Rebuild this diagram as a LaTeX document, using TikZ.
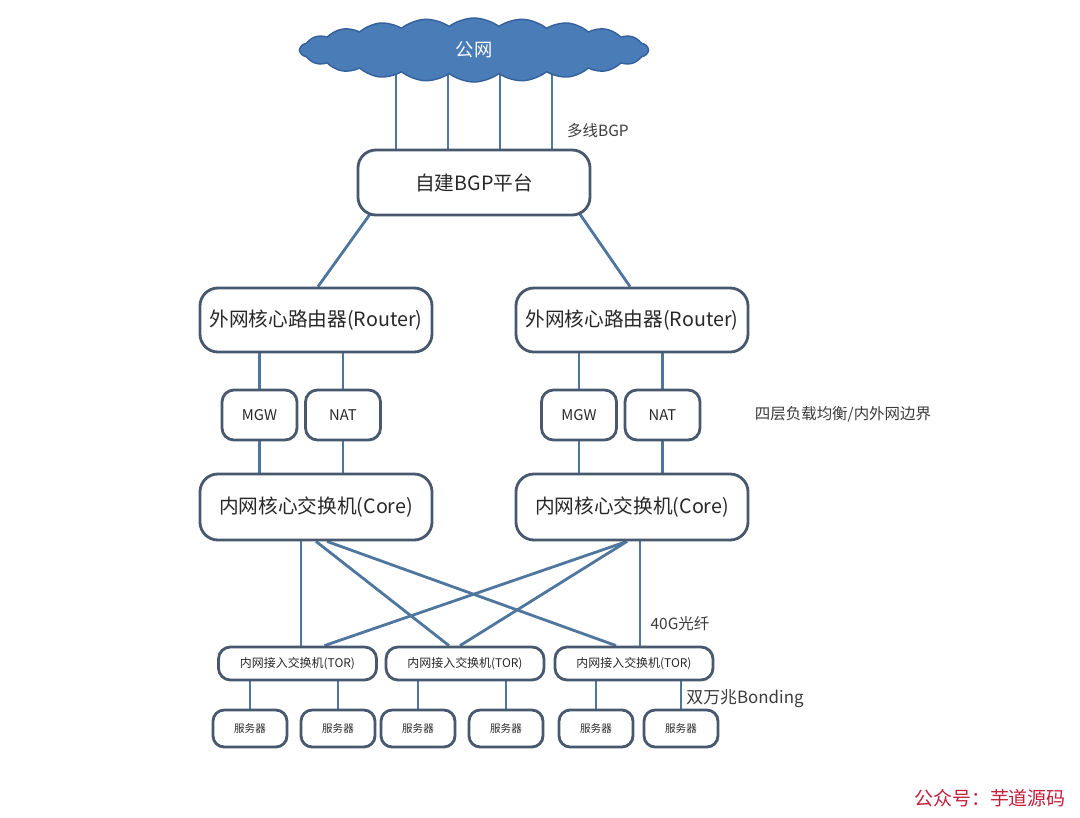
\documentclass[tikz,border=0pt]{standalone}
\usepackage{fontspec}
\setmainfont{Noto Sans CJK SC}
\usetikzlibrary{shapes.symbols,calc}
\definecolor{boxline}{RGB}{72,88,110}
\definecolor{linkc}{RGB}{78,118,158}
\definecolor{cloudf}{RGB}{74,124,184}
\definecolor{cloudd}{RGB}{52,96,156}
\definecolor{txt}{RGB}{40,40,40}
\definecolor{lbl}{RGB}{60,60,60}
\definecolor{redtxt}{RGB}{196,30,58}
\pgfdeclarelayer{background}
\pgfdeclarelayer{bg}
\pgfsetlayers{background,bg,main}
\begin{document}
\begin{tikzpicture}[x=0.025cm,y=-0.025cm,
  box/.style={draw=boxline, line width=2pt, fill=white, text=txt, inner sep=0pt, align=center},
  bigbox/.style={box, rounded corners=0.45cm, minimum width=5.8cm, minimum height=1.6cm, font=\fontsize{14}{16}\selectfont},
  smallbox/.style={box, rounded corners=0.3cm, minimum width=1.875cm, minimum height=1.25cm, font=\fontsize{10.5}{12}\selectfont},
  torbox/.style={box, rounded corners=0.3cm, minimum width=3.95cm, minimum height=0.825cm, font=\fontsize{8.5}{10}\selectfont},
  srvbox/.style={box, rounded corners=0.28cm, minimum width=1.85cm, minimum height=0.925cm, font=\fontsize{7.5}{9}\selectfont},
  link/.style={draw=linkc, line width=2pt},
  note/.style={text=lbl, inner sep=0pt}]
\begin{pgfonlayer}{background}
\useasboundingbox[fill=white] (0,0) rectangle (1080,817);
\end{pgfonlayer}

% cloud
\node[cloud, cloud puffs=22, cloud puff arc=75, aspect=5.4, draw=cloudd, line width=1pt, fill=cloudf,
      minimum width=8.7cm, minimum height=1.6cm, inner sep=0pt, text=white,
      font=\fontsize{13}{15}\selectfont] (net) at (474,50) {公网};

% top boxes
\node[bigbox, minimum height=1.625cm] (bgp) at (474,182.5) {自建BGP平台};
\node[bigbox] (r1) at (316,320) {外网核心路由器(Router)};
\node[bigbox] (r2) at (632,320) {外网核心路由器(Router)};

\node[smallbox] (m1) at (259.5,415) {MGW};
\node[smallbox] (n1) at (343,415) {NAT};
\node[smallbox] (m2) at (579,415) {MGW};
\node[smallbox] (n2) at (662.5,415) {NAT};

\node[bigbox, minimum height=1.65cm] (c1) at (316,507) {内网核心交换机(Core)};
\node[bigbox, minimum height=1.65cm] (c2) at (632,507) {内网核心交换机(Core)};

\node[torbox] (t1) at (297.5,663.5) {内网接入交换机(TOR)};
\node[torbox] (t2) at (465,663.5) {内网接入交换机(TOR)};
\node[torbox] (t3) at (634,663.5) {内网接入交换机(TOR)};

\node[srvbox] (s1) at (250,728.5) {服务器};
\node[srvbox] (s2) at (338,728.5) {服务器};
\node[srvbox] (s3) at (418,728.5) {服务器};
\node[srvbox] (s4) at (506,728.5) {服务器};
\node[srvbox] (s5) at (596,728.5) {服务器};
\node[srvbox] (s6) at (681,728.5) {服务器};

% labels
\node[note, font=\fontsize{11}{13}\selectfont] (l1) at (598,131) {多线BGP};
\node[note, font=\fontsize{11}{13}\selectfont] (l2) at (843,414) {四层负载均衡/内外网边界};
\node[note, font=\fontsize{11}{13}\selectfont] (l3) at (680,624) {40G光纤};
\node[note, font=\fontsize{12}{14}\selectfont] (l4) at (745,699) {双万兆Bonding};
\node[inner sep=0pt, text=redtxt, font=\fontsize{13.5}{15}\selectfont] (wm) at (990,798) {公众号：芋道源码};

% connectors
\begin{pgfonlayer}{bg}
\foreach \x/\n in {396/a,448/b,500/c,552/d}{
  \coordinate (p\n) at (\x,60);
  \draw[link] (p\n) -- (p\n |- bgp.north);
}
\draw[link] ($(bgp.south west)+(14,-3)$) -- ($(r1.north)+(2,0)$);
\draw[link] ($(bgp.south east)+(-12,-3)$) -- ($(r2.north)+(-2,0)$);
\foreach \b/\r in {m1/r1,n1/r1,m2/r2,n2/r2}{
  \draw[link] (\b.north) -- (\b.north |- \r.south);
}
\foreach \b/\c in {m1/c1,n1/c1,m2/c2,n2/c2}{
  \draw[link] (\b.south) -- (\b.south |- \c.north);
}
\coordinate (ca) at ($(c1.south)+(-15,0)$);
\draw[link] (ca) -- (ca |- t1.north);
\draw[link] ($(c1.south)+(0,0)$) -- ($(t2.north)+(-16,0)$);
\draw[link] ($(c1.south)+(11,0)$) -- ($(t3.north)+(-18,0)$);
\draw[link] ($(c2.south)+(-5,0)$) -- ($(t1.north)+(27,0)$);
\draw[link] ($(c2.south)+(-5,0)$) -- ($(t2.north)+(-5,0)$);
\coordinate (cb) at ($(c2.south)+(8,0)$);
\draw[link] (cb) -- (cb |- t3.north);
\foreach \s/\t in {s1/t1,s2/t1,s3/t2,s4/t2,s5/t3,s6/t3}{
  \draw[link] (\s.north) -- (\s.north |- \t.south);
}
\end{pgfonlayer}
\end{tikzpicture}
\end{document}
